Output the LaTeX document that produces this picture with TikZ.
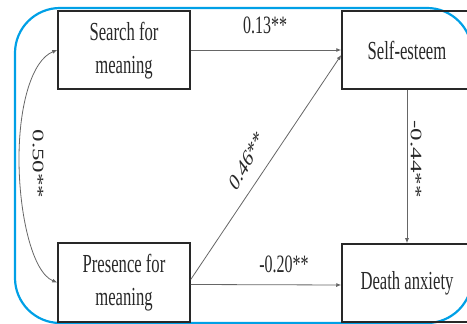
\documentclass[tikz,border=0pt]{standalone}
\usepackage{fontspec}
\setmainfont{Liberation Serif}
\usetikzlibrary{arrows.meta}
\definecolor{frameblue}{RGB}{0,160,230}
\definecolor{ink}{RGB}{40,40,40}
\newcommand{\sqz}[1]{\scalebox{0.64}[1]{#1}}
\begin{document}
\begin{tikzpicture}[x=1pt,y=1pt,
  box/.style={draw=ink, line width=1.5pt, minimum width=132pt, minimum height=78pt,
    inner sep=0pt, text=ink, font=\fontsize{26}{33}\selectfont, align=center},
  conn/.style={draw=black!60, line width=0.8pt, -{Latex[length=5pt,width=4pt]}},
  lab/.style={text=ink, font=\fontsize{25}{30}\selectfont, inner sep=1pt, xscale=0.64}]
\useasboundingbox (0,0) rectangle (467,324);
\clip (0,0) rectangle (467,324);
\draw[frameblue, line width=2.2pt]
  (15,46) -- (15,271) arc[start angle=180, end angle=90, radius=45]
  -- (427,316) arc[start angle=90, end angle=0, radius=45]
  -- (472,46) arc[start angle=0, end angle=-90, radius=45]
  -- (60,1) arc[start angle=270, end angle=180, radius=45] -- cycle;
\node[box] (sfm) at (124,274) {\sqz{\begin{tabular}{@{}c@{}}Search for\\meaning\end{tabular}}};
\node[box, minimum width=130pt] (se) at (407,274) {\sqz{Self-esteem}};
\node[box, minimum height=79pt] (pfm) at (124,41.5) {\sqz{\begin{tabular}{@{}c@{}}Presence for\\meaning\end{tabular}}};
\node[box, minimum width=130pt] (da) at (407,41) {\sqz{Death anxiety}};
\coordinate (mid) at (19,165);
\draw[conn] (sfm.east) -- (se.west);
\draw[conn] ([yshift=-2pt]pfm.east) -- ([yshift=-2pt]da.west);
\draw[conn] ([yshift=3pt]pfm.east) -- ([yshift=-5pt]se.west);
\draw[conn] (se.south) -- (da.north);
\draw[conn, {Latex[length=5pt,width=4pt]}-{Latex[length=5pt,width=4pt]}]
  (sfm.west) .. controls +(-25,-10) and +(0,55) .. (mid)
  .. controls +(0,-55) and +(-25,10) .. (pfm.west);
\node[lab] (l13) at (265,299) {0.13**};
\node[lab] (l20) at (284,60) {-0.20**};
\node[lab, rotate=50] (l46) at (247,163) {0.46**};
\node[lab, rotate=-90] (l50) at (38,160) {0.50**};
\node[lab, rotate=-90] (l44) at (416,165) {-0.44**};
\end{tikzpicture}
\end{document}
